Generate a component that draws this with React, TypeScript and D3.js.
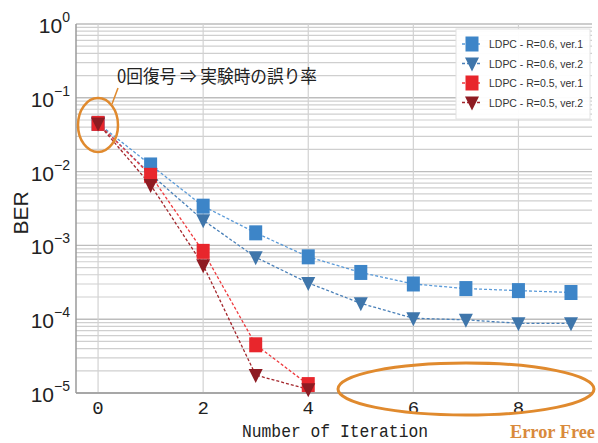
import React from "react";
import * as d3 from "d3";

// Iteration counts and BER values per decoder
const iterations = [0, 1, 2, 3, 4, 5, 6, 7, 8, 9];
const r06v1 = [0.045, 0.0123, 0.0034, 0.00148, 0.0007, 0.00043, 0.0003, 0.00026, 0.000244, 0.00023];
const r06v2 = [0.045, 0.0092, 0.0022, 0.00069, 0.00031, 0.000164, 0.000103, 0.000098, 0.000088, 0.000088];
const r05v1 = [0.045, 0.0089, 0.00083, 0.000045, 0.000013];
const r05v2 = [0.045, 0.0066, 0.00054, 0.0000175, 0.0000112];

const xTicks = [0, 2, 4, 6, 8];
const yExps = [0, -1, -2, -3, -4, -5];
const seriesNames = ["LDPC - R=0.6, ver.1", "LDPC - R=0.6, ver.2", "LDPC - R=0.5, ver.1", "LDPC - R=0.5, ver.2"];

const W = 598;
const H = 443;
const left = 76, right = 592, top = 24, bottom = 393;

export default function App() {
  const x = d3.scaleLinear().domain([-0.42, 9.4]).range([left, right]);
  const y = d3.scaleLog().domain([1e-5, 1]).range([bottom, top]);

  const series = [
    { name: seriesNames[0], values: r06v1, marker: "square", fill: "#3d85c8", line: "#5a9ad8" },
    { name: seriesNames[1], values: r06v2, marker: "tri", fill: "#3f76ab", line: "#4a80b8" },
    { name: seriesNames[2], values: r05v1, marker: "square", fill: "#e8262c", line: "#ef3a3e" },
    { name: seriesNames[3], values: r05v2, marker: "tri", fill: "#8e1b22", line: "#a3262c" },
  ];

  const line = d3
    .line<number>()
    .x((_, i) => x(iterations[i]))
    .y((v) => y(v));

  const minorLines: number[] = [];
  for (let e = -5; e < 0; e++) {
    for (let k = 2; k <= 9; k++) minorLines.push(k * Math.pow(10, e));
  }

  const drawMarker = (kind: string, cx: number, cy: number, fill: string, key: string) =>
    kind === "square" ? (
      <rect key={key} x={cx - 6.5} y={cy - 7.5} width={13} height={15} fill={fill} />
    ) : (
      <path key={key} d={`M${cx - 7},${cy - 6} L${cx + 7},${cy - 6} L${cx},${cy + 8} Z`} fill={fill} />
    );

  return (
    <svg width={W} height={H} style={{ position: "absolute", left: 0, top: 0, background: "#fff" }}>
      <rect x={0} y={0} width={W} height={H} fill="#fff" />
      {/* minor horizontal grid */}
      {minorLines.map((v, i) => (
        <line key={"mn" + i} x1={left} x2={right} y1={y(v)} y2={y(v)} stroke="#cfcfcf" strokeWidth={1.2} />
      ))}
      {/* major horizontal grid */}
      {yExps.map((e) => (
        <line key={"mj" + e} x1={left} x2={right} y1={y(Math.pow(10, e))} y2={y(Math.pow(10, e))} stroke="#bdbdbd" strokeWidth={1.4} />
      ))}
      {/* vertical grid */}
      {xTicks.map((t) => (
        <line key={"vg" + t} x1={x(t)} x2={x(t)} y1={top} y2={bottom} stroke="#d2d2d2" strokeWidth={1.2} />
      ))}
      {/* spines */}
      <line x1={left} x2={left} y1={top} y2={bottom} stroke="#9a9a9a" strokeWidth={1.5} />
      <line x1={left} x2={right} y1={bottom} y2={bottom} stroke="#9a9a9a" strokeWidth={1.5} />

      {/* series lines */}
      {series.map((s, i) => (
        <path key={"ln" + i} d={line(s.values) || ""} fill="none" stroke={s.line} strokeWidth={1.3} strokeDasharray="3,2" />
      ))}
      {/* markers */}
      {series.map((s, i) =>
        s.values.map((v, j) => drawMarker(s.marker, x(iterations[j]), y(v), s.fill, `m${i}-${j}`))
      )}

      {/* y tick labels */}
      {yExps.map((e) => (
        <text key={"yt" + e} x={70} y={y(Math.pow(10, e)) + 9} textAnchor="end" fontFamily="Liberation Sans, Arial, sans-serif" fontSize={21} fill="#222">
          10
          <tspan dy={-11} fontSize={14}>{e === 0 ? "0" : "\u2212" + -e}</tspan>
        </text>
      ))}
      {/* x tick labels */}
      {xTicks.map((t) => (
        <text key={"xt" + t} x={x(t)} y={414} textAnchor="middle" fontFamily="Liberation Mono, monospace" fontSize={19} fill="#222">
          {t}
        </text>
      ))}
      <text x={335} y={437} textAnchor="middle" fontFamily="Liberation Mono, monospace" fontSize={19} textLength={186} lengthAdjust="spacingAndGlyphs" fill="#222">
        Number of Iteration
      </text>
      <text transform="translate(28,213) rotate(-90)" textAnchor="middle" fontFamily="Liberation Sans, Arial, sans-serif" fontSize={21} fill="#222">
        BER
      </text>

      {/* annotation */}
      <text x={117} y={83} fontFamily="Noto Sans CJK JP, sans-serif" fontSize={18} textLength={200} lengthAdjust="spacingAndGlyphs" fill="#222">
        0回復号 ⇒ 実験時の誤り率
      </text>
      <ellipse cx={98} cy={125} rx={20} ry={27} fill="none" stroke="#e08a2e" strokeWidth={2.5} />
      <line x1={112} y1={104} x2={118} y2={88} stroke="#e08a2e" strokeWidth={1.5} />
      <ellipse cx={466} cy={389} rx={128} ry={26} fill="none" stroke="#e08a2e" strokeWidth={3} />
      <text x={510} y={438} fontFamily="Liberation Serif, serif" fontWeight="bold" fontSize={18} textLength={85} lengthAdjust="spacingAndGlyphs" fill="#d98a3c">
        Error Free
      </text>

      {/* legend */}
      <rect x={456} y={29} width={134} height={90} fill="#fff" fillOpacity={0.95} stroke="#e2e2e2" />
      {series.map((s, i) => {
        const ly = 44 + i * 19.5;
        return (
          <g key={"lg" + i}>
            <line x1={462} x2={482} y1={ly} y2={ly} stroke={s.line} strokeWidth={1.3} strokeDasharray="3,2" />
            {drawMarker(s.marker, 472, ly, s.fill, "lm" + i)}
            <text x={489} y={ly + 4} fontFamily="Liberation Sans Narrow, Liberation Sans, sans-serif" fontSize={11} textLength={94} lengthAdjust="spacingAndGlyphs" fill="#333">
              {s.name}
            </text>
          </g>
        );
      })}
    </svg>
  );
}
